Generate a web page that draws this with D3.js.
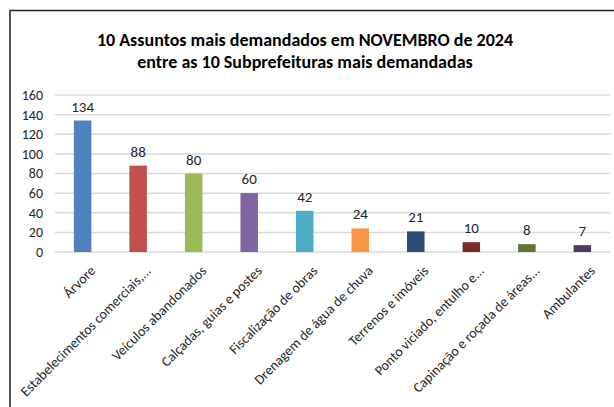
<!DOCTYPE html>
<html>
<head>
<meta charset="utf-8">
<script src="https://cdn.jsdelivr.net/npm/d3@7"></script>
<style>
  body { margin: 0; background: #fff; }
  svg text { font-family: Calibri, Carlito, "Open Sans", sans-serif; fill: #262626; }
</style>
</head>
<body>
<div id="chart"></div>
<script>
const categories = ["Árvore", "Estabelecimentos comerciais,...", "Veículos abandonados", "Calçadas, guias e postes",
  "Fiscalização de obras", "Drenagem de água de chuva", "Terrenos e imóveis", "Ponto viciado, entulho e...",
  "Capinação e roçada de áreas...", "Ambulantes"];
const values = [134, 88, 80, 60, 42, 24, 21, 10, 8, 7];
const colors = ["#4F81BD", "#C0504D", "#9BBB59", "#8064A2", "#4BACC6", "#F79646", "#2C4D75", "#772C2A", "#5F7530", "#4D3B62"];
const yTicks = [0, 20, 40, 60, 80, 100, 120, 140, 160];
const titleLines = ["10 Assuntos mais demandados  em NOVEMBRO de 2024", "entre as 10 Subprefeituras mais demandadas"];

const width = 614, height = 407;
const margin = { top: 95, right: 4, bottom: 155, left: 55 };

const svg = d3.select("#chart").append("svg")
  .attr("width", width)
  .attr("height", height);

// chart frame (cut off at right and bottom)
svg.append("path")
  .attr("d", "M10,407 V10.5 H614")
  .attr("fill", "none")
  .attr("stroke", "#222")
  .attr("stroke-width", 1.5);

svg.append("g").selectAll("text")
  .data(titleLines)
  .enter()
  .append("text")
  .attr("x", 305)
  .attr("y", (d, i) => 46 + i * 22)
  .attr("text-anchor", "middle")
  .style("font-size", "18px")
  .style("font-weight", "bold")
  .style("fill", "#000")
  .text(d => d);

const x = d3.scaleBand()
  .domain(categories)
  .range([margin.left, width - margin.right])
  .paddingInner(0.685)
  .paddingOuter(0.34);

const y = d3.scaleLinear()
  .domain([0, 160])
  .range([height - margin.bottom, margin.top]);

// gridlines
svg.append("g").selectAll("line")
  .data(yTicks)
  .enter()
  .append("line")
  .attr("x1", margin.left)
  .attr("x2", 610)
  .attr("y1", d => y(d))
  .attr("y2", d => y(d))
  .attr("stroke", "#d9d9d9")
  .attr("stroke-width", 1.5);

const yAxis = svg.append("g")
  .attr("transform", "translate(" + (margin.left - 9) + ",0)")
  .call(d3.axisLeft(y).tickValues(yTicks).tickSize(0));
yAxis.select(".domain").remove();
yAxis.selectAll("text")
  .style("font-size", "14px")
  .style("font-family", "Calibri, Carlito, 'Open Sans', sans-serif")
  .attr("fill", "#262626");

svg.append("g").selectAll("rect")
  .data(values)
  .enter()
  .append("rect")
  .attr("x", (d, i) => x(categories[i]))
  .attr("y", d => y(d))
  .attr("width", x.bandwidth())
  .attr("height", d => y(0) - y(d))
  .attr("fill", (d, i) => colors[i]);

svg.append("g").selectAll("text")
  .data(values)
  .enter()
  .append("text")
  .attr("x", (d, i) => x(categories[i]) + x.bandwidth() / 2)
  .attr("y", d => y(d) - 9)
  .attr("text-anchor", "middle")
  .style("font-size", "15px")
  .text(d => d);

// rotated category labels
const xAxis = svg.append("g")
  .attr("transform", "translate(0," + y(0) + ")")
  .call(d3.axisBottom(x).tickSize(0));
xAxis.select(".domain").remove();
xAxis.selectAll("text")
  .style("font-size", "14px")
  .style("font-family", "Calibri, Carlito, 'Open Sans', sans-serif")
  .attr("fill", "#262626")
  .attr("text-anchor", "end")
  .attr("dy", "0.35em")
  .attr("transform", "translate(8,14) rotate(-45)");
</script>
</body>
</html>
